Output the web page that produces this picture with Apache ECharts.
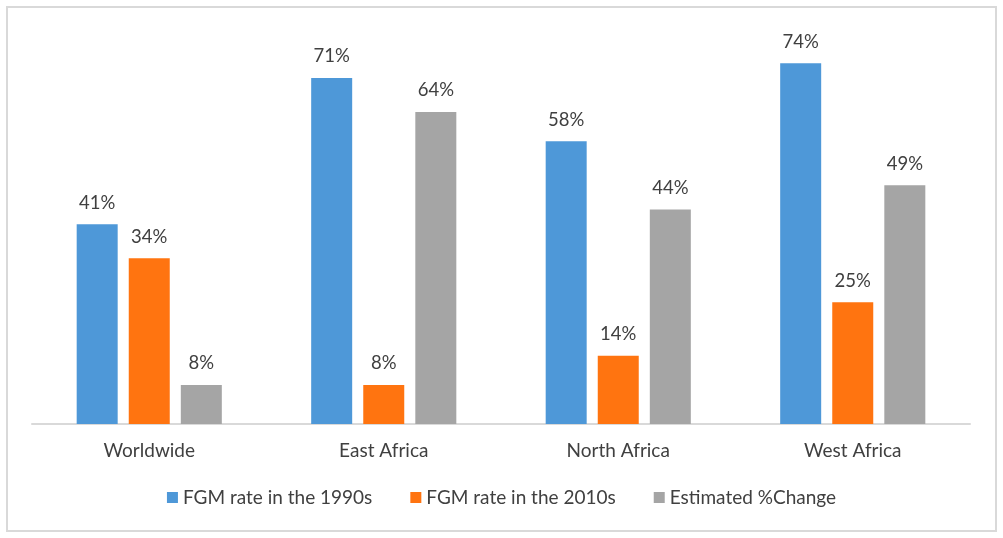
<!DOCTYPE html>
<html>
<head>
<meta charset="utf-8">
<script src="https://cdn.jsdelivr.net/npm/echarts@6/dist/echarts.min.js"></script>
<style>
  html, body { margin: 0; padding: 0; background: #fff; }
  #chart { width: 1003px; height: 538px; }
</style>
</head>
<body>
<div id="chart"></div>
<script>
var regions = ['Worldwide', 'East Africa', 'North Africa', 'West Africa'];
var rate1990s = [41, 71, 58, 74];
var rate2010s = [34, 8, 14, 25];
var estChange = [8, 64, 44, 49];

var myChart = echarts.init(document.getElementById('chart'));

var labelStyle = {
  show: true,
  position: 'top',
  distance: 12,
  formatter: '{c}%',
  color: '#404040',
  fontSize: 18.5,
  fontFamily: 'Lato'
};

var option = {
  animation: false,
  textStyle: { fontFamily: 'Lato' },
  graphic: [
    {
      type: 'rect',
      shape: { x: 7, y: 7, width: 989, height: 524 },
      style: { fill: 'none', stroke: '#d9d9d9', lineWidth: 2 }
    }
  ],
  grid: { left: 32, right: 33, top: 34, bottom: 114 },
  legend: {
    top: 483,
    left: 'center',
    itemWidth: 11,
    itemHeight: 11,
    itemGap: 38,
    icon: 'rect',
    textStyle: { color: '#404040', fontSize: 19, fontFamily: 'Lato' },
    data: ['FGM rate in the 1990s', 'FGM rate in the 2010s', 'Estimated %Change']
  },
  xAxis: {
    type: 'category',
    data: regions,
    axisLine: { lineStyle: { color: '#d9d9d9', width: 2 } },
    axisTick: { show: false },
    axisLabel: { color: '#404040', fontSize: 19, margin: 17, fontFamily: 'Lato' }
  },
  yAxis: {
    type: 'value',
    min: 0,
    max: 80,
    show: false,
    splitLine: { show: false }
  },
  series: [
    {
      name: 'FGM rate in the 1990s',
      type: 'bar',
      data: rate1990s,
      barWidth: 41,
      barGap: '27%',
      itemStyle: { color: '#4E98D8' },
      label: labelStyle
    },
    {
      name: 'FGM rate in the 2010s',
      type: 'bar',
      data: rate2010s,
      barWidth: 41,
      barGap: '27%',
      itemStyle: { color: '#FF7410' },
      label: labelStyle
    },
    {
      name: 'Estimated %Change',
      type: 'bar',
      data: estChange,
      barWidth: 41,
      barGap: '27%',
      itemStyle: { color: '#A5A5A5' },
      label: labelStyle
    }
  ]
};

myChart.setOption(option);
</script>
</body>
</html>
